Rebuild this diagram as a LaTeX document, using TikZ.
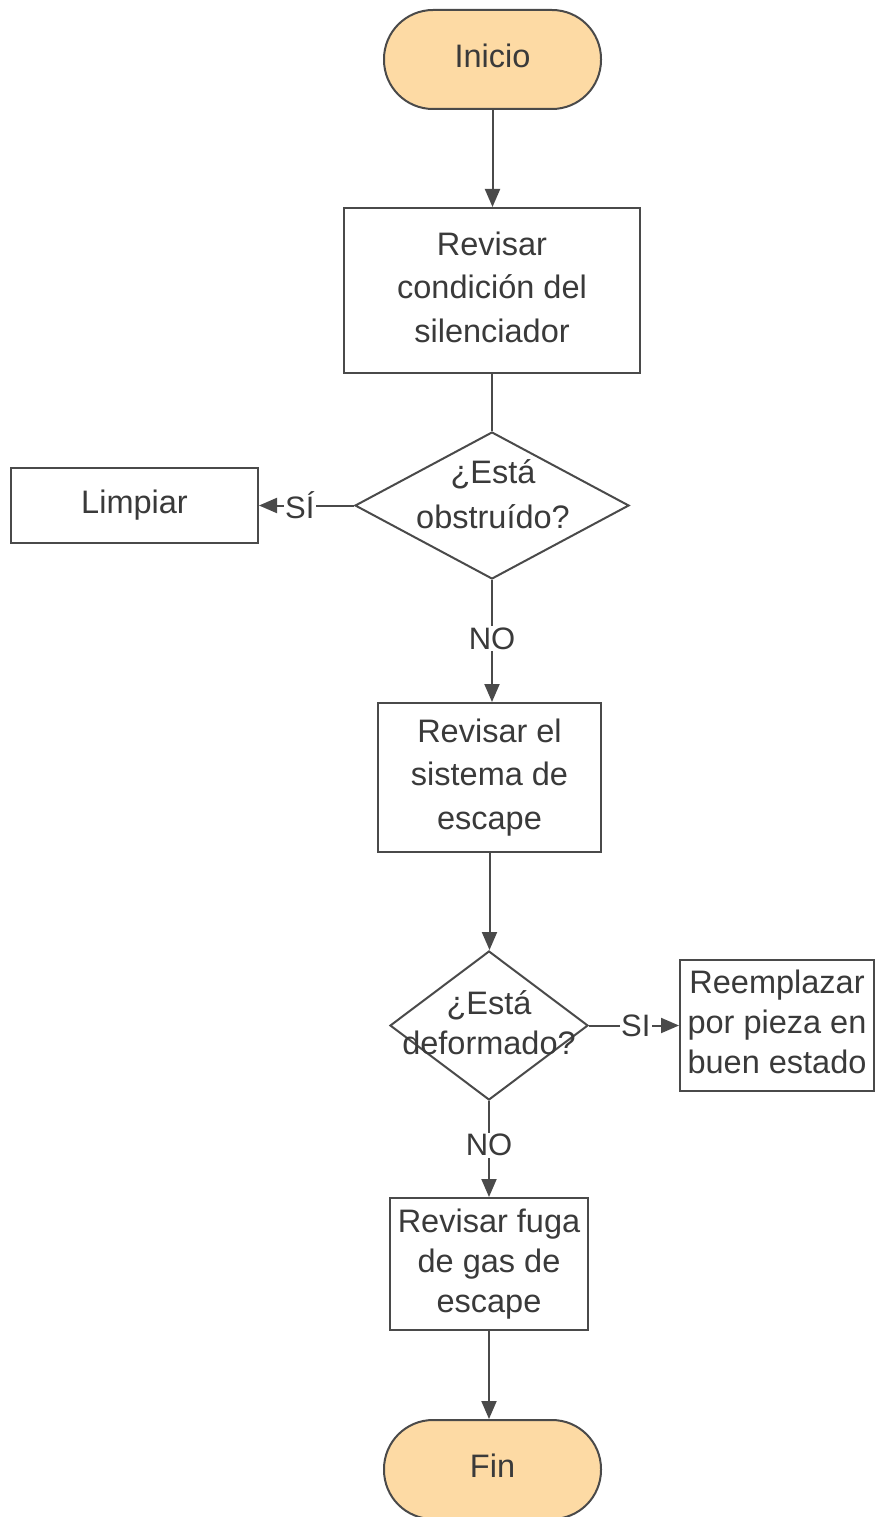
\documentclass[tikz,border=0pt]{standalone}
\usepackage{fontspec}
\setmainfont{Liberation Sans}
\usetikzlibrary{shapes.geometric,arrows.meta}
\definecolor{edge}{HTML}{4A4A4A}
\definecolor{ink}{HTML}{3A3A3A}
\definecolor{termfill}{HTML}{FDDAA4}
% reserve descender room on a last line without one
\newcommand{\lowline}{\vphantom{g}}
\tikzset{
  base/.style={draw=edge, line width=2pt, text=ink, align=center, inner sep=0pt},
  terminal/.style={base, fill=termfill, rounded corners=49pt, minimum width=217pt, minimum height=99pt, font=\fontsize{32.5}{43}\selectfont},
  process/.style={base, fill=white, font=\fontsize{32.5}{43.5}\selectfont},
  processtight/.style={base, fill=white, font=\fontsize{32.5}{40}\selectfont},
  decision/.style={base, fill=white, shape=diamond, aspect=1.8},
  dtext/.style={text=ink, align=center, inner sep=0pt},
  flow/.style={draw=edge, line width=2pt, -{Triangle[length=18pt,width=15pt]}},
  plain/.style={draw=edge, line width=2pt},
  tag/.style={fill=white, text=ink, inner sep=1.5pt, font=\fontsize{31}{36}\selectfont}
}
\begin{document}
\begin{tikzpicture}[x=1pt,y=-1pt]
\useasboundingbox (0,0) rectangle (875,1517);

% main column
\node[terminal] (inicio) at (492.5,59.5) {Inicio\lowline};
\node[process, minimum width=296pt, minimum height=165pt] (cond) at (492,290.5)
  {Revisar\\condición del\\silenciador\lowline};
\node[decision, minimum width=274pt, minimum height=147pt] (obst) at (492,505.5) {};
\node[dtext, font=\fontsize{32.5}{45}\selectfont] (obsttxt) at (493,494) {¿Está\\obstruído?};
\node[process, minimum width=247pt, minimum height=75pt] (limpiar) at (134.5,505.5) {Limpiar};

\node[process, minimum width=223pt, minimum height=149pt] (escape) at (489.5,777.5)
  {Revisar el\\sistema de\\escape};
\node[decision, minimum width=198pt, minimum height=149pt] (deform) at (489,1025.5) {};
\node[dtext, font=\fontsize{32.5}{40}\selectfont] (deformtxt) at (489,1023) {¿Está\\deformado?};
\node[processtight, minimum width=194pt, minimum height=131pt] (reemp) at (777,1025.5)
  {Reemplazar\\por pieza en\\buen estado\lowline};

\node[processtight, minimum width=198pt, minimum height=132pt] (fuga) at (489,1264)
  {Revisar fuga\\de gas de\\escape};
\node[terminal] (fin) at (492.5,1469.5) {Fin\lowline};

% connectors
\draw[flow] (inicio.south) -- (inicio.south |- cond.north);
\draw[plain] (cond.south) -- (cond.south |- obst.north);
\draw[flow] (obst.west) -- node[tag, pos=0.57] {SÍ} (limpiar.east);
\draw[flow] (obst.south) -- node[tag, pos=0.48] {NO} (obst.south |- escape.north);
\draw[flow] (escape.south) -- (escape.south |- deform.north);
\draw[flow] (deform.east) -- node[tag, pos=0.52] {SI} (reemp.west);
\draw[flow] (deform.south) -- node[tag, pos=0.46] {NO} (deform.south |- fuga.north);
\draw[flow] (fuga.south) -- (fuga.south |- fin.north);
\end{tikzpicture}
\end{document}
